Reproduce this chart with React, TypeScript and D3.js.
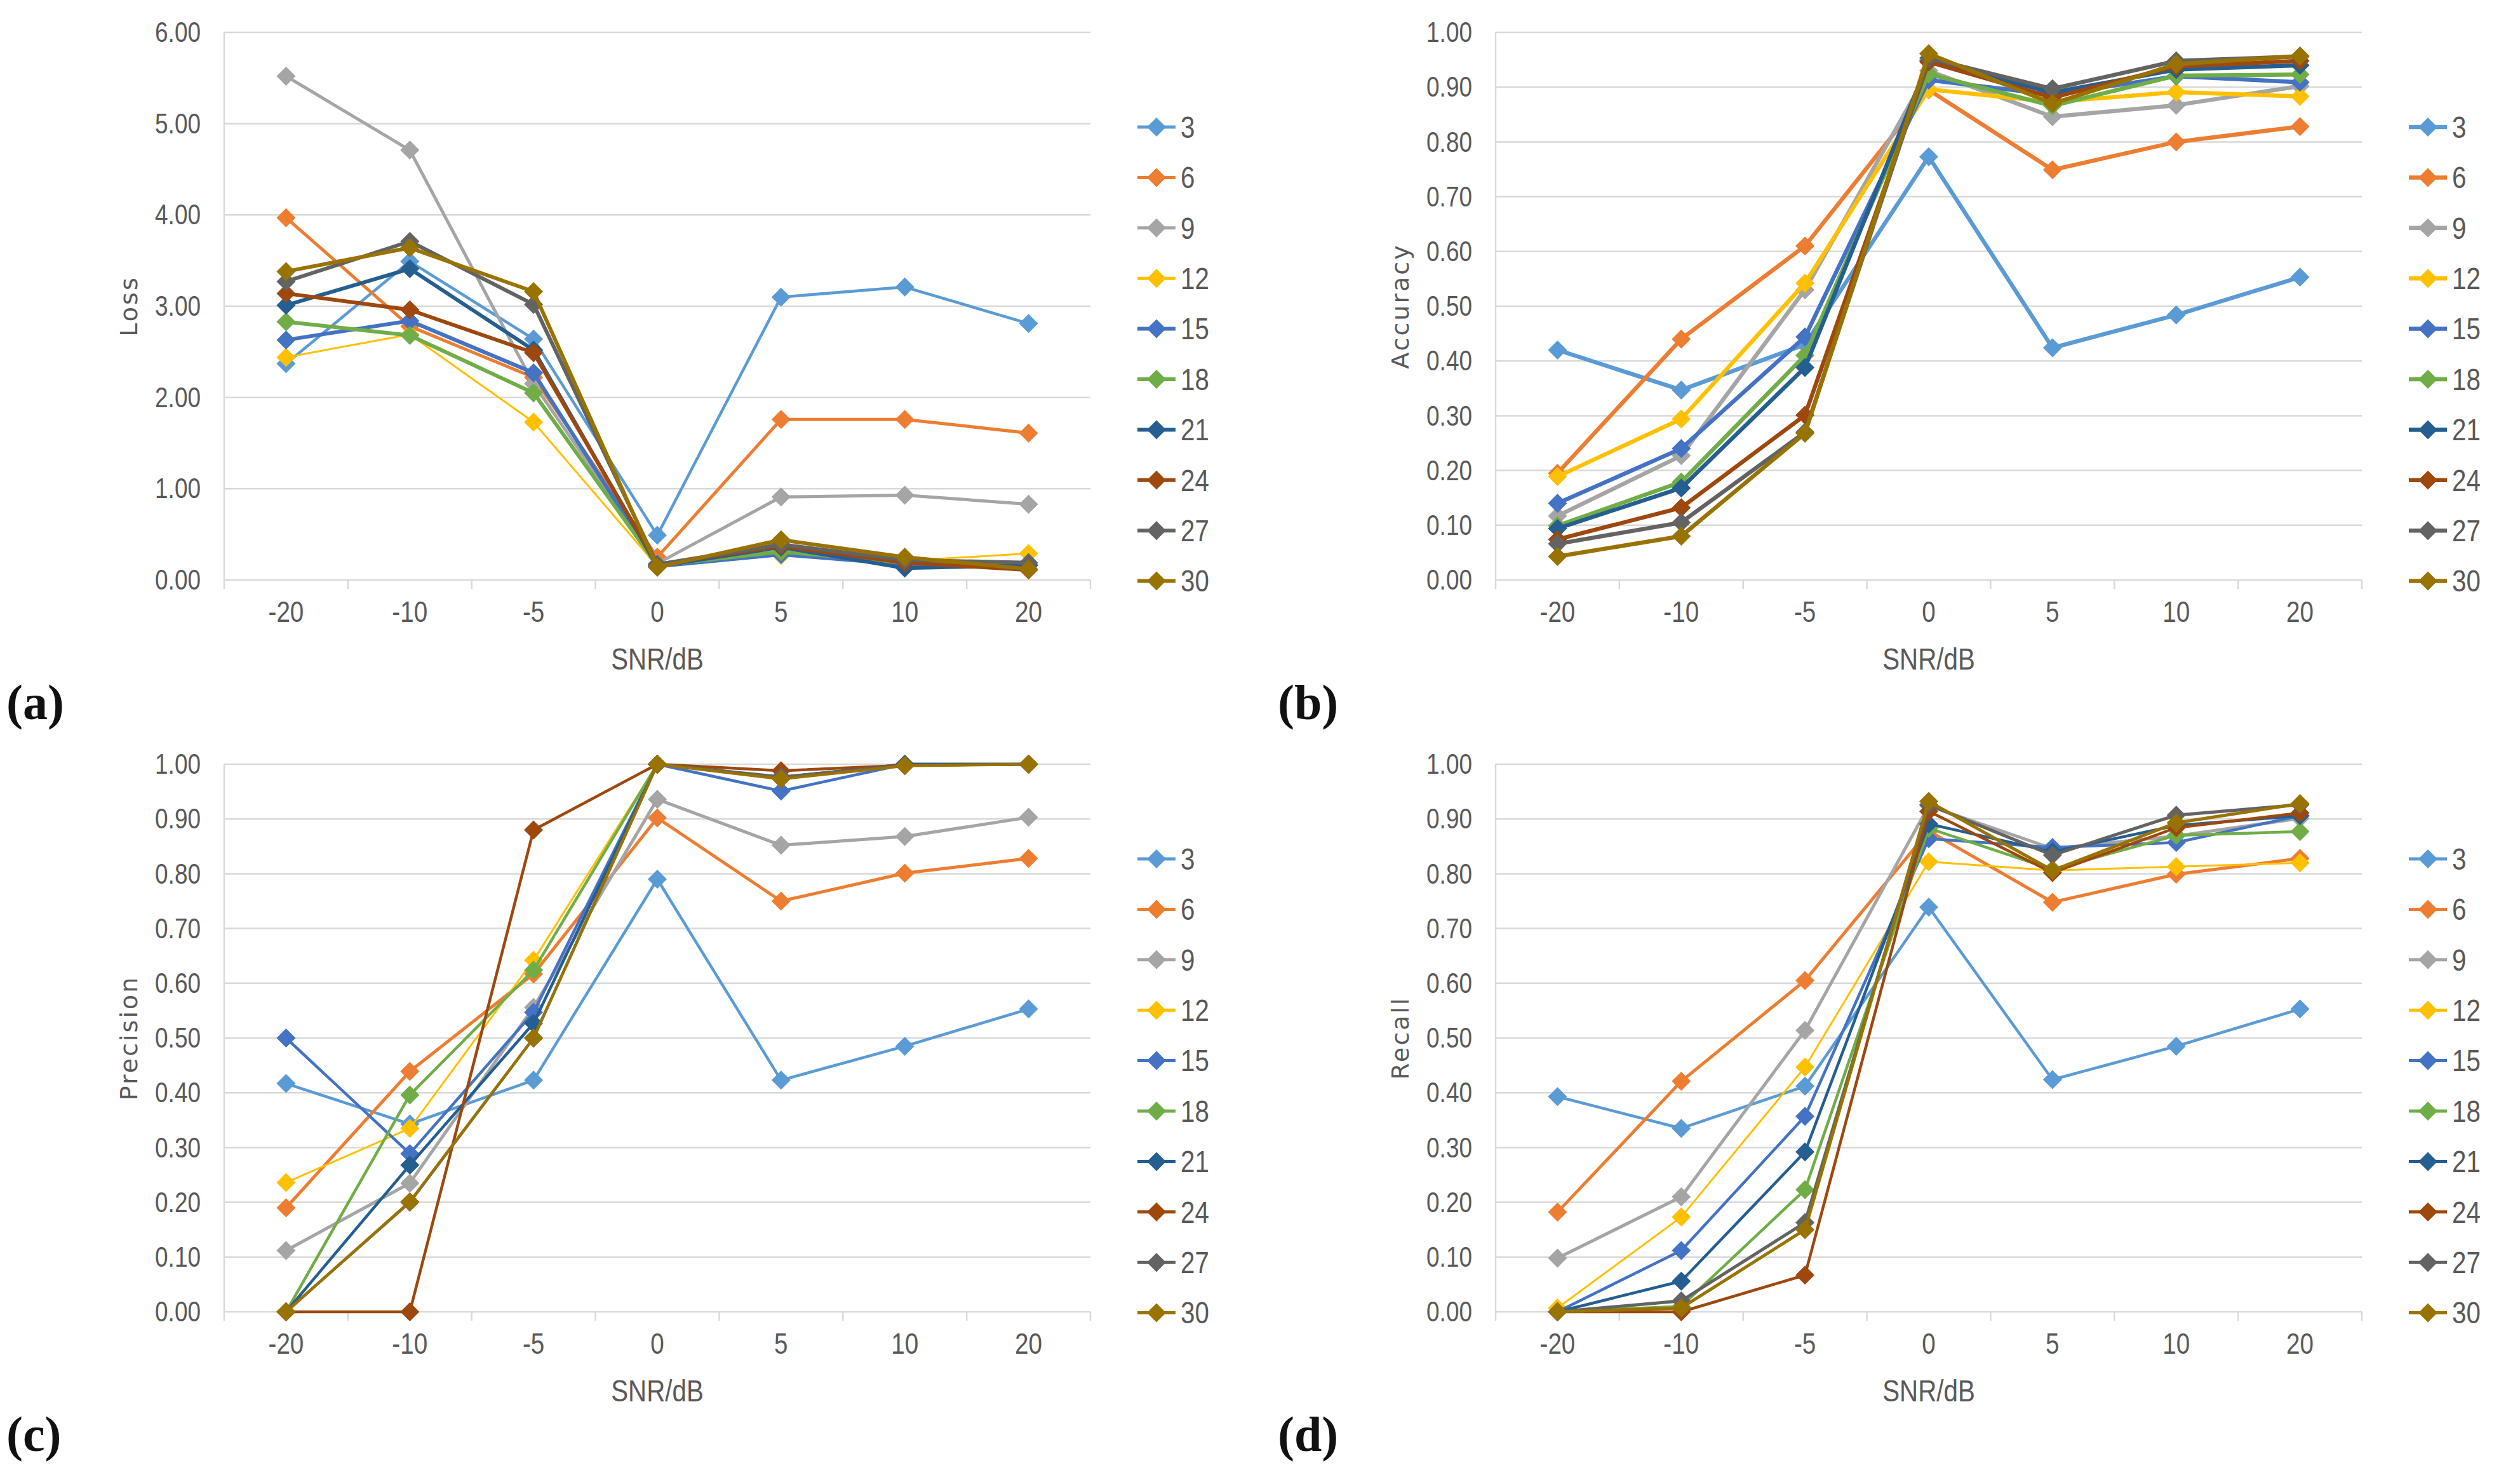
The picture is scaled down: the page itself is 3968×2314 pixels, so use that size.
import React from "react";
import * as d3 from "d3";

// categories and legend
const snr = ["-20", "-10", "-5", "0", "5", "10", "20"];
const seriesNames = ["3", "6", "9", "12", "15", "18", "21", "24", "27", "30"];

// Loss
const loss3 = [2.37, 3.49, 2.64, 0.49, 3.1, 3.21, 2.81];
const loss6 = [3.97, 2.78, 2.22, 0.25, 1.76, 1.76, 1.61];
const loss9 = [5.52, 4.71, 2.15, 0.18, 0.91, 0.93, 0.83];
const loss12 = [2.44, 2.69, 1.73, 0.15, 0.27, 0.21, 0.29];
const loss15 = [2.63, 2.84, 2.27, 0.15, 0.28, 0.17, 0.16];
const loss18 = [2.83, 2.68, 2.05, 0.16, 0.31, 0.19, 0.17];
const loss21 = [3.01, 3.41, 2.52, 0.15, 0.36, 0.13, 0.16];
const loss24 = [3.14, 2.96, 2.49, 0.17, 0.37, 0.19, 0.11];
const loss27 = [3.27, 3.71, 3.02, 0.17, 0.39, 0.22, 0.19];
const loss30 = [3.38, 3.64, 3.16, 0.14, 0.44, 0.25, 0.12];

// Accuracy
const acc3 = [0.42, 0.347, 0.43, 0.773, 0.424, 0.484, 0.553];
const acc6 = [0.195, 0.44, 0.61, 0.895, 0.749, 0.8, 0.828];
const acc9 = [0.117, 0.227, 0.53, 0.93, 0.846, 0.867, 0.902];
const acc12 = [0.189, 0.294, 0.542, 0.896, 0.873, 0.891, 0.883];
const acc15 = [0.14, 0.24, 0.444, 0.913, 0.886, 0.92, 0.909];
const acc18 = [0.099, 0.179, 0.41, 0.924, 0.866, 0.921, 0.923];
const acc21 = [0.094, 0.168, 0.388, 0.948, 0.89, 0.932, 0.94];
const acc24 = [0.074, 0.132, 0.301, 0.946, 0.881, 0.938, 0.948];
const acc27 = [0.066, 0.105, 0.27, 0.953, 0.897, 0.948, 0.956];
const acc30 = [0.043, 0.08, 0.268, 0.961, 0.87, 0.942, 0.957];

// Precision
const prec3 = [0.417, 0.343, 0.423, 0.79, 0.423, 0.485, 0.553];
const prec6 = [0.19, 0.439, 0.617, 0.902, 0.75, 0.801, 0.828];
const prec9 = [0.112, 0.235, 0.556, 0.936, 0.852, 0.868, 0.903];
const prec12 = [0.236, 0.335, 0.642, 1.0, 0.975, 1.0, 1.0];
const prec15 = [0.5, 0.289, 0.547, 1.0, 0.951, 1.0, 1.0];
const prec18 = [0.0, 0.396, 0.624, 1.0, 0.976, 1.0, 1.0];
const prec21 = [0.0, 0.268, 0.527, 1.0, 0.976, 1.0, 1.0];
const prec24 = [0.0, 0.0, 0.88, 1.0, 0.988, 0.998, 1.0];
const prec27 = [0.0, 0.2, 0.5, 1.0, 0.977, 0.998, 1.0];
const prec30 = [0.0, 0.201, 0.5, 1.0, 0.973, 0.997, 1.0];

// Recall
const rec3 = [0.393, 0.335, 0.412, 0.739, 0.424, 0.485, 0.553];
const rec6 = [0.182, 0.421, 0.605, 0.878, 0.748, 0.799, 0.828];
const rec9 = [0.098, 0.21, 0.514, 0.924, 0.846, 0.869, 0.901];
const rec12 = [0.007, 0.173, 0.447, 0.822, 0.806, 0.813, 0.82];
const rec15 = [0.0, 0.112, 0.357, 0.864, 0.848, 0.857, 0.906];
const rec18 = [0.0, 0.01, 0.223, 0.883, 0.808, 0.87, 0.877];
const rec21 = [0.0, 0.056, 0.292, 0.891, 0.84, 0.888, 0.906];
const rec24 = [0.0, 0.0, 0.067, 0.914, 0.802, 0.884, 0.911];
const rec27 = [0.0, 0.02, 0.163, 0.926, 0.834, 0.907, 0.926];
const rec30 = [0.0, 0.007, 0.15, 0.932, 0.806, 0.893, 0.928];

const colors = [
  "#5B9BD5", "#ED7D31", "#A5A5A5", "#FFC000", "#4472C4",
  "#70AD47", "#255E91", "#9E480E", "#636363", "#997300",
];

const NARROW = "'Liberation Sans Narrow', 'Arial Narrow', 'Liberation Sans', sans-serif";
const GRID = "#D9D9D9";
const TEXT = "#595959";

// narrow text: Calibri-like labels are squeezed horizontally
const NText = ({ x, y, anchor, size, children, central }: any) => (
  <g transform={`translate(${x},${y}) scale(0.84,1)`}>
    <text
      textAnchor={anchor}
      dominantBaseline={central ? "central" : undefined}
      fontFamily={NARROW}
      fontSize={size}
      fill={TEXT}
    >
      {children}
    </text>
  </g>
);

type PanelProps = {
  left: number;
  top: number;
  title: string;
  tag: string;
  yMax: number;
  yStep: number;
  data: number[][];
  widths: number[];
};

const Panel = ({ left, top, title, tag, yMax, yStep, data, widths }: PanelProps) => {
  const x0 = left + 353;
  const x1 = left + 1717;
  const yTop = top + 51;
  const yBot = top + 913;

  const xBand = d3.scaleBand<string>().domain(snr).range([x0, x1]);
  const x = d3.scalePoint<string>().domain(snr).range([x0, x1]).padding(0.5);
  const y = d3.scaleLinear().domain([0, yMax]).range([yBot, yTop]);
  const yTicks = d3.range(0, yMax + yStep / 2, yStep);

  const line = d3
    .line<number>()
    .x((_, i) => x(snr[i]) as number)
    .y((d) => y(d));

  const diamond = (cx: number, cy: number, r: number) =>
    `M${cx},${cy - r}L${cx + r},${cy}L${cx},${cy + r}L${cx - r},${cy}Z`;

  const bounds = snr.map((c) => xBand(c) as number).concat([x1]);
  const legX = x1 + 74;
  const legY = top + 200;
  const legStep = 79.4;

  return (
    <g>
      {yTicks.map((t) => (
        <g key={t}>
          <line x1={x0} x2={x1} y1={y(t)} y2={y(t)} stroke={GRID} strokeWidth={2.5} />
          <NText x={x0 - 37} y={y(t)} anchor="end" size={44} central>
            {d3.format(".2f")(t)}
          </NText>
        </g>
      ))}
      <line x1={x0} x2={x0} y1={yTop} y2={yBot} stroke={GRID} strokeWidth={2.5} />
      {bounds.map((b, i) => (
        <line key={i} x1={b} x2={b} y1={yBot} y2={yBot + 14} stroke={GRID} strokeWidth={2.5} />
      ))}
      {snr.map((c) => (
        <NText key={c} x={x(c)} y={yBot + 66} anchor="middle" size={46}>
          {c}
        </NText>
      ))}
      <NText x={(x0 + x1) / 2} y={yBot + 141} anchor="middle" size={48}>
        SNR/dB
      </NText>
      <text
        transform={`translate(${left + 203},${(yTop + yBot) / 2}) rotate(-90)`}
        textAnchor="middle"
        dominantBaseline="central"
        fontFamily="'DejaVu Sans', sans-serif"
        fontSize={38}
        letterSpacing={3}
        fill={TEXT}
      >
        {title}
      </text>
      <text
        x={left + 10}
        y={top + 1132}
        fontFamily="'Liberation Serif', 'DejaVu Serif', serif"
        fontWeight="bold"
        fontSize={78}
        fill="#111"
      >
        {tag}
      </text>

      {data.map((s, k) => (
        <g key={k}>
          <path d={line(s) as string} fill="none" stroke={colors[k]} strokeWidth={widths[k]} strokeLinejoin="round" />
          {s.map((v, i) => (
            <path key={i} d={diamond(x(snr[i]) as number, y(v), 15)} fill={colors[k]} />
          ))}
        </g>
      ))}

      {seriesNames.map((n, k) => {
        const ly = legY + k * legStep;
        return (
          <g key={n}>
            <line x1={legX} x2={legX + 60} y1={ly} y2={ly} stroke={colors[k]} strokeWidth={Math.max(widths[k], 5)} />
            <path d={diamond(legX + 30, ly, 15)} fill={colors[k]} />
            <NText x={legX + 68} y={ly} anchor="start" size={48} central>
              {n}
            </NText>
          </g>
        );
      })}
    </g>
  );
};

const App = () => {
  const lossData = [loss3, loss6, loss9, loss12, loss15, loss18, loss21, loss24, loss27, loss30];
  const accData = [acc3, acc6, acc9, acc12, acc15, acc18, acc21, acc24, acc27, acc30];
  const precData = [prec3, prec6, prec9, prec12, prec15, prec18, prec21, prec24, prec27, prec30];
  const recData = [rec3, rec6, rec9, rec12, rec15, rec18, rec21, rec24, rec27, rec30];

  const wA = [4.5, 5, 5, 3, 6, 6, 6, 6, 6, 6];
  const wB = [6.5, 6.5, 6.5, 6.5, 6.5, 6.5, 6.5, 6.5, 6.5, 6.5];
  const wC = [4.5, 5, 5, 3, 4.5, 4.5, 4.5, 4.5, 4.5, 4.5];
  const wD = [4.5, 5, 5, 3, 4.5, 4.5, 4.5, 4.5, 5, 5];

  return (
    <svg
      width={3968}
      height={2314}
      style={{ position: "absolute", left: 0, top: 0, background: "#fff" }}
    >
      <rect width={3968} height={2314} fill="#fff" />
      <Panel left={0} top={0} title="Loss" tag="(a)" yMax={6} yStep={1} data={lossData} widths={wA} />
      <Panel left={2002} top={0} title="Accuracy" tag="(b)" yMax={1} yStep={0.1} data={accData} widths={wB} />
      <Panel left={0} top={1152} title="Precision" tag="(c)" yMax={1} yStep={0.1} data={precData} widths={wC} />
      <Panel left={2002} top={1152} title="Recall" tag="(d)" yMax={1} yStep={0.1} data={recData} widths={wD} />
    </svg>
  );
};

export default App;
